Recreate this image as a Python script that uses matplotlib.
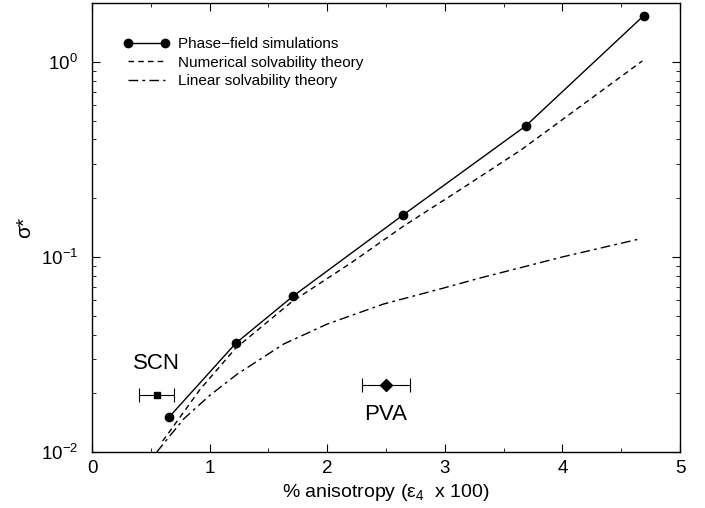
import numpy as np
import matplotlib
matplotlib.use("Agg")
import matplotlib.pyplot as plt
from matplotlib.ticker import MultipleLocator, LogLocator, NullFormatter

plt.rcParams['font.family'] = ['Liberation Sans', 'DejaVu Sans']
plt.rcParams['mathtext.fontset'] = 'custom'
plt.rcParams['mathtext.rm'] = 'Liberation Sans'
plt.rcParams['mathtext.it'] = 'Liberation Sans:italic'

# phase-field simulation points
pf_x = [0.655, 1.224, 1.71, 2.645, 3.69, 4.69]
pf_y = [0.0151, 0.0362, 0.063, 0.164, 0.47, 1.72]

# numerical solvability theory (dashed)
num_x = [0.60, 0.65, 0.92, 1.22, 1.70, 2.20, 2.65, 3.15, 3.65, 4.20, 4.68]
num_y = [0.0114, 0.0125, 0.021, 0.034, 0.059, 0.093, 0.144, 0.225, 0.354, 0.62, 1.01]

# linear solvability theory (dash-dot)
lin_x = [0.55, 0.78, 1.0, 1.235, 1.63, 2.0, 2.48, 2.99, 3.3, 4.0, 4.64]
lin_y = [0.0100, 0.0148, 0.0195, 0.0251, 0.0358, 0.0453, 0.0574, 0.0693, 0.078, 0.100, 0.123]

# experimental data
scn_x, scn_y, scn_err = 0.55, 0.0196, 0.15
pva_x, pva_y, pva_err = 2.50, 0.0220, 0.20

fig = plt.figure(figsize=(7.05, 5.08), dpi=100)
ax = fig.add_axes([0.1305, 0.110, 0.834, 0.884])

ax.plot(pf_x, pf_y, '-', color='black', lw=1.0, marker='o', ms=6,
        label='Phase\u2212field simulations')
ax.plot(num_x, num_y, color='black', lw=1.0, dashes=(4, 3),
        label='Numerical solvability theory')
ax.plot(lin_x, lin_y, color='black', lw=1.0, dashes=(7, 3, 2, 3),
        label='Linear solvability theory')

ax.errorbar(scn_x, scn_y, xerr=scn_err, fmt='s', color='black', ms=5,
            elinewidth=0.8, capsize=5, capthick=0.8)
ax.errorbar(pva_x, pva_y, xerr=pva_err, fmt='D', color='black', ms=6,
            elinewidth=0.8, capsize=5, capthick=0.8)
ax.text(0.55, 0.0286, 'SCN', fontsize=16, ha='center', va='center')
ax.text(2.50, 0.0155, 'PVA', fontsize=16, ha='center', va='center')

ax.set_yscale('log')
ax.set_xlim(0, 5)
ax.set_ylim(0.01, 2.0)
ax.xaxis.set_major_locator(MultipleLocator(1))
ax.xaxis.set_minor_locator(MultipleLocator(0.5))
ax.yaxis.set_major_locator(LogLocator(base=10))
ax.yaxis.set_minor_locator(LogLocator(base=10, subs=np.arange(2, 10)))
ax.yaxis.set_minor_formatter(NullFormatter())
ax.tick_params(which='both', direction='in', top=True, right=True, labelsize=13.5)
ax.tick_params(which='major', length=6)
ax.tick_params(which='minor', length=3)
ax.tick_params(axis='y', which='major', pad=10)
ax.tick_params(axis='x', which='major', pad=6)
for s in ax.spines.values():
    s.set_linewidth(1.0)

ax.set_xlabel('% anisotropy (\u03b5$_4$  x 100)', fontsize=14, labelpad=3)
ax.set_ylabel('\u03c3*', fontsize=15, labelpad=5)

ax.legend(loc='upper left', bbox_to_anchor=(0.03, 0.955), frameon=False,
          fontsize=11, handlelength=3.0, numpoints=2, labelspacing=0.3,
          handletextpad=0.6)

fig.savefig('out.png', dpi=100)
